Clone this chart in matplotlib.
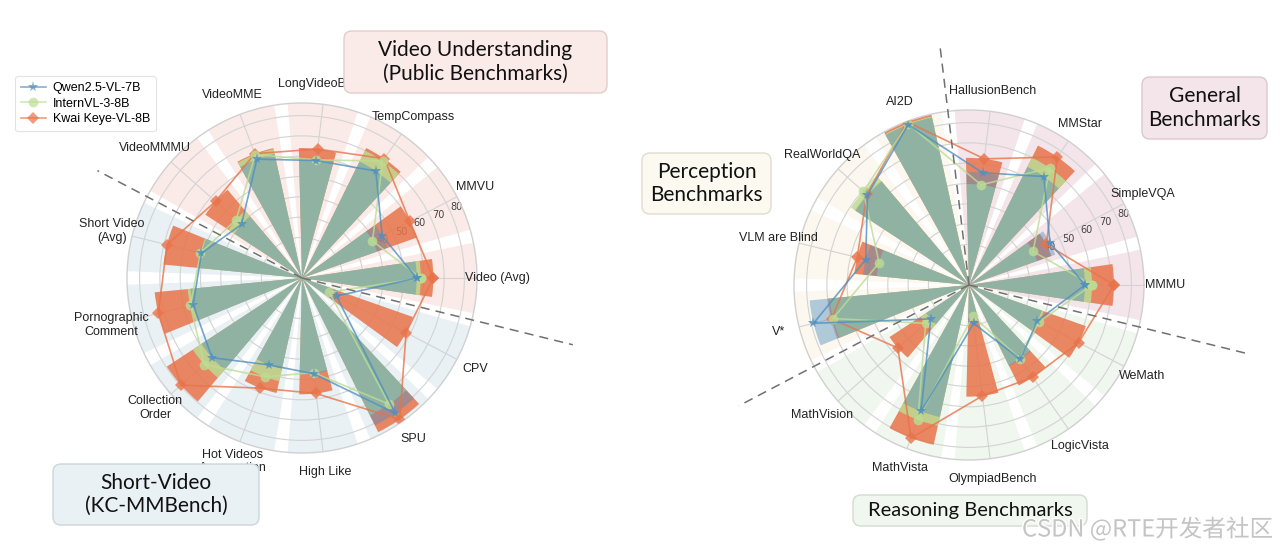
import matplotlib
matplotlib.use("Agg")
import matplotlib.pyplot as plt
import numpy as np
from matplotlib.patches import FancyBboxPatch
from matplotlib.lines import Line2D
import matplotlib.patheffects as pe

# ---------------- data ----------------
left_categories = ["Video (Avg)", "MMVU", "TempCompass", "LongVideoBench", "VideoMME",
                   "VideoMMMU", "Short Video\n(Avg)", "Pornographic\nComment",
                   "Collection\nOrder", "Hot Videos\nAggregation", "High Like", "SPU", "CPV"]
left_groups = ["video"] * 6 + ["short"] * 7
left_qwen = [56.5, 44.6, 64.0, 58.3, 62.6, 39.8, 51.0, 55.2, 59.2, 45.8, 47.5, 81.0, 19.2]
left_intern = [58.5, 39.2, 70.0, 58.6, 65.0, 43.3, 51.5, 56.6, 64.3, 52.0, 47.0, 75.5, 15.2]
left_keye = [64.7, 60.0, 71.4, 64.0, 65.5, 56.9, 68.5, 72.9, 79.6, 58.0, 57.3, 84.7, 57.9]

right_categories = ["MMMU", "SimpleVQA", "MMStar", "HallusionBench", "AI2D", "RealWorldQA",
                    "VLM are Blind", "V*", "MathVision", "MathVista", "OlympiadBench",
                    "LogicVista", "WeMath"]
right_groups = ["general"] * 4 + ["perception"] * 4 + ["reasoning"] * 5
right_qwen = [57.1, 45.0, 64.9, 55.7, 84.5, 66.8, 52.4, 78.9, 25.2, 66.6, 19.0, 44.5, 38.0]
right_intern = [60.6, 35.6, 70.0, 49.7, 85.0, 69.5, 45.6, 69.0, 28.5, 71.0, 15.4, 44.0, 39.0]
right_keye = [71.4, 43.0, 76.6, 62.6, 86.0, 67.3, 56.7, 69.7, 46.8, 80.6, 55.0, 55.2, 61.0]

model_names = ["Qwen2.5-VL-7B", "InternVL-3-8B", "Kwai Keye-VL-8B"]
r_ticks = [20, 30, 40, 50, 60, 70, 80]

# ---------------- styles ----------------
W, H = 1280, 553
RMAX = 86.2
C_Q = "#5190c0"
C_I = "#bcdd94"
C_K = "#e8734a"
bg_colors = {"video": "#fbebe8", "short": "#e9f1f5", "general": "#f3e5ea",
             "perception": "#fcf8ef", "reasoning": "#f0f7ef"}

fig = plt.figure(figsize=(12.8, 5.53), dpi=100)


def px_rect(cx, cy, r):
    return [(cx - r) / W, (H - cy - r) / H, 2 * r / W, 2 * r / H]


def radar(ax, cats, groups, q, i, k, rays):
    n = len(cats)
    step = 2 * np.pi / n
    ang = np.arange(n) * step
    ax.set_ylim(0, RMAX)
    ax.set_axisbelow(True)
    ax.bar(ang, [RMAX] * n, width=0.84 * step, color=[bg_colors[g] for g in groups],
           linewidth=0, zorder=0.1)
    ax.bar(ang, k, width=0.6 * step, color=C_K, alpha=0.85, linewidth=0, zorder=1.0)
    ax.bar(ang, i, width=0.6 * step, color=C_I, alpha=0.85, linewidth=0, zorder=1.1)
    ax.bar(ang, q, width=0.6 * step, color=C_Q, alpha=0.45, linewidth=0, zorder=1.2)
    ca = np.append(ang, ang[0])
    for vals, col, mk, ms in [(k, C_K, "D", 6.5), (i, C_I, "o", 7), (q, C_Q, "*", 8)]:
        v = np.append(vals, vals[0])
        ax.plot(ca, v, color=col, lw=1.2, alpha=0.8, marker=mk, ms=ms,
                markeredgewidth=0, zorder=3)
    ax.set_xticks(ang)
    ax.set_xticklabels([])
    ax.set_yticks(r_ticks)
    ax.set_yticklabels([str(t) for t in r_ticks], fontsize=7, color="#444444")
    ax.set_rlabel_position(24)
    ax.grid(color="#d3d3d3", lw=0.8)
    ax.spines["polar"].set_color("#d0d0d0")
    ax.spines["polar"].set_linewidth(1.0)
    for a, name in zip(ang, cats):
        ax.text(a, 96.5, name, ha="center", va="center", fontsize=9, color="#222222",
                family="Liberation Sans", multialignment="center", linespacing=1.15)
    for b, length in rays:
        th = (b + 0.5) * step
        ax.plot([th, th], [0, length], color="#707070", lw=1.1, ls=(0, (6, 4)),
                clip_on=False, zorder=5)


axL = fig.add_axes(px_rect(302, 278, 175), projection="polar")
axR = fig.add_axes(px_rect(969, 285, 175), projection="polar")
radar(axL, left_categories, left_groups, left_qwen, left_intern, left_keye,
      [(5, 113.8), (-1, 137.4)])
radar(axR, right_categories, right_groups, right_qwen, right_intern, right_keye,
      [(3, 119.0), (7, 128.0), (-1, 142.0)])

# legend
handles = [Line2D([], [], color=C_Q, marker="*", ms=8, lw=1.2, alpha=0.7, markeredgewidth=0),
           Line2D([], [], color=C_I, marker="o", ms=7, lw=1.2, alpha=0.7, markeredgewidth=0),
           Line2D([], [], color=C_K, marker="D", ms=6.5, lw=1.2, alpha=0.7, markeredgewidth=0)]
leg = fig.legend(handles, model_names, loc="upper left", bbox_to_anchor=(9 / W, 1 - 70 / H),
                 frameon=True, fancybox=True, handlelength=2.0,
                 borderpad=0.45, labelspacing=0.3, handletextpad=0.55,
                 prop={"family": "Liberation Sans", "size": 9})
leg.get_frame().set_edgecolor("#dddddd")
leg.get_frame().set_linewidth(0.8)


def box(x0, y0, x1, y1, text, fc, ec, fs=15):
    p = FancyBboxPatch((x0 / 100, (H - y1) / 100), (x1 - x0) / 100, (y1 - y0) / 100,
                       boxstyle="round,pad=0,rounding_size=0.08",
                       transform=fig.dpi_scale_trans, fc=fc, ec=ec, lw=1.0, zorder=4)
    fig.add_artist(p)
    fig.text((x0 + x1) / 2 / W, 1 - (y0 + y1) / 2 / H, text, ha="center", va="center",
             fontsize=fs, family="Lato", color="#111111", linespacing=1.2, zorder=5)


box(344, 31, 607, 93, "Video Understanding\n(Public Benchmarks)", "#fbebe8", "#e3cdc9")
box(53, 464, 259, 525, "Short-Video\n(KC-MMBench)", "#e9f1f5", "#cad6dc")
box(642, 153, 771, 214, "Perception\nBenchmarks", "#fcf9f1", "#e2dccd")
box(1142, 77, 1267, 139, "General\nBenchmarks", "#f3e5ea", "#dbc9d0")
box(853, 495, 1087, 526, "Reasoning Benchmarks", "#f0f7ef", "#d2dcd0", fs=14.5)

fig.text(1022 / W, 1 - 529 / H, "CSDN @RTE开发者社区", ha="left", va="center", fontsize=17,
         color="#c4c4c4", family=["Noto Sans CJK SC", "DejaVu Sans"], zorder=6,
         path_effects=[pe.withStroke(linewidth=2, foreground="white")])

fig.savefig("out.png", dpi=100)
